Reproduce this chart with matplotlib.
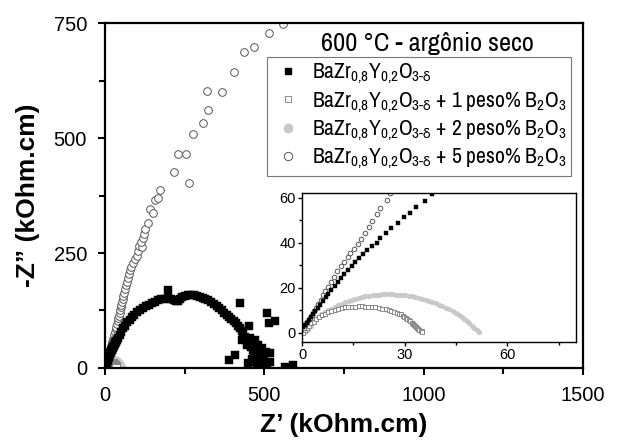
import matplotlib
matplotlib.use("Agg")
import matplotlib.pyplot as plt
from matplotlib.lines import Line2D
from matplotlib import font_manager

# find some condensed face for the legend, like the original
narrow = None
for f in font_manager.fontManager.ttflist:
    if f.style != 'normal' or f.weight not in (400, 'normal', 'regular'):
        continue
    if 'Narrow' in f.name or 'Condensed' in f.name:
        narrow = f.name
        break
if narrow is None:
    narrow = 'Liberation Sans'

plt.rcParams['font.family'] = ['Liberation Sans', 'DejaVu Sans']
plt.rcParams['mathtext.fontset'] = 'custom'
plt.rcParams['mathtext.rm'] = narrow
plt.rcParams['mathtext.it'] = narrow
plt.rcParams['mathtext.fallback'] = 'stixsans'

# BaZr0,8Y0,2O3-d (pure)
z0_re = [0.4, 0.9, 1.4, 2.0, 2.6, 3.2, 3.9, 4.6, 5.3, 6.1, 6.9, 7.7, 8.6, 9.5, 10.4, 11.4,
         12.4, 13.3, 14.6, 15.6, 16.6, 17.8, 19.0, 20.5, 21.8, 22.9, 24.4, 26.1, 28.0, 29.8,
         31.6, 33.2, 35.9, 38.1,
         41, 46, 51, 57, 63, 70, 77, 84, 92, 100, 109, 118, 127, 137, 147, 157, 167, 177,
         187, 197, 207, 215, 222, 229, 236, 243, 252, 261, 270, 279, 288, 297, 306, 315,
         324, 333, 342, 350, 358, 366, 374, 382, 390, 397, 404, 411, 417, 423, 429, 434,
         439, 444, 449, 454, 459, 464, 469, 474, 479, 484, 489, 494, 498,
         198, 424, 452, 430, 464, 492, 518, 508, 515, 533, 408, 390, 449, 518, 565, 590,
         496, 477, 446, 480, 470, 500, 505, 485, 460, 472, 510, 455]
z0_im = [2.7, 3.6, 4.6, 5.8, 7.0, 8.3, 9.7, 11.1, 12.6, 14.2, 15.8, 17.4, 19.1, 20.8, 22.6, 24.4,
         26.3, 28.0, 29.5, 31.4, 33.2, 34.8, 36.6, 38.5, 40.0, 42.2, 44.2, 46.5, 48.7, 51.3,
         53.3, 55.8, 58.4, 61.4,
         66, 72, 79, 86, 92, 99, 105, 110, 116, 121, 126, 130, 134, 138, 141, 144, 147, 149,
         151, 152, 151, 148, 146, 145, 149, 155, 157, 158, 159, 158, 157, 154, 152, 150,
         147, 143, 139, 135, 130, 125, 120, 115, 110, 107, 102, 97, 92, 87, 80, 73,
         67, 61, 56, 51, 45, 40, 35, 29, 23, 16, 10, 4, 1,
         170, 141, 91, 61, 57, 43, 33, 120, 98, 102, 28, 17, 11, 13, 2, 7,
         28, 2, 50, 50, 60, 20, 35, 30, 20, 12, 5, 65]

# + 1 peso% B2O3
z1_re = [0.3, 0.8, 1.4, 2.0, 2.7, 3.4, 4.2, 5.0, 5.7, 6.6, 7.6, 8.6, 9.6, 10.6, 11.6, 12.6,
         13.5, 14.5, 15.5, 16.5, 17.4, 18.4, 19.4, 20.4, 21.4, 22.4, 23.4, 24.4, 25.3, 26.1,
         26.9, 27.6, 28.2, 28.8, 29.4, 29.9, 30.4, 30.8, 31.2, 31.6, 32.0, 32.4, 32.8, 33.1,
         33.4, 33.7, 34.0, 34.3, 34.6, 34.9, 35.1]
z1_im = [0.2, 1.2, 2.2, 3.1, 4.2, 5.0, 6.0, 7.0, 7.8, 8.5, 9.2, 9.8, 10.3, 10.7, 11.0, 11.3,
         11.5, 11.6, 11.7, 11.8, 11.8, 11.7, 11.6, 11.5, 11.4, 11.1, 10.8, 10.4, 10.0, 9.6,
         9.2, 8.9, 8.6, 8.2, 7.7, 7.2, 6.7, 6.2, 5.6, 5.1, 4.6, 4.0, 3.5, 3.0, 2.6, 2.2,
         1.8, 1.4, 1.0, 0.7, 0.4]

# + 2 peso% B2O3
z2_re = [0.5, 1.2, 1.8, 2.6, 3.4, 4.0, 4.7, 5.6, 6.6, 7.6, 8.6, 9.6, 10.6, 11.6, 12.6, 13.6,
         14.5, 15.5, 16.5, 17.5, 18.4, 19.5, 20.6, 21.6, 22.6, 23.5, 24.3, 25.3, 26.3, 27.3,
         28.2, 29.2, 30.2, 31.2, 32.2, 33.1, 34.1, 35.1, 36.1, 37.0, 38.0, 39.0, 40.0, 41.0,
         42.0, 43.0, 44.0, 45.0, 45.9, 46.6, 47.3, 48.1, 48.8, 49.6, 50.3, 51.1, 51.8]
z2_im = [0.2, 1.0, 1.2, 3.2, 5.0, 6.2, 7.1, 8.2, 9.2, 10.1, 10.8, 11.6, 12.4, 13.0, 13.5, 14.1,
         14.6, 15.0, 15.4, 15.8, 16.2, 16.5, 16.7, 16.9, 17.0, 17.1, 17.1, 17.1, 17.1, 17.0,
         17.0, 16.9, 16.7, 16.5, 16.2, 15.9, 15.6, 15.2, 14.8, 14.2, 13.7, 13.1, 12.6, 12.0,
         11.2, 10.5, 9.6, 8.7, 7.8, 6.9, 6.0, 5.1, 4.2, 3.3, 2.2, 1.2, 0.4]

# + 5 peso% B2O3
z5_re = [0.5, 1.0, 1.6, 2.2, 2.8, 3.4, 4.0, 4.7, 5.4, 6.1, 6.8, 7.6, 8.4, 9.2, 10.2, 11.4,
         12.4, 13.3, 14.1, 15.1, 16.3, 17.1, 18.5, 19.5, 20.5, 21.8, 22.7, 24.7, 25.7,
         27.5, 29.5, 31.5, 33.5, 35.5, 37.5, 39.5, 41.5, 43.5, 45.5, 47.5, 49.5, 51.5, 53.5,
         55.5, 57.5, 60, 63, 66, 69, 72, 75, 78, 83, 88, 94, 100, 104, 107, 115, 113, 119,
         122, 126, 135, 141, 150, 158, 166, 172, 216, 264, 229, 254, 276, 307, 323, 320,
         367, 405, 436, 468, 515, 559]
z5_im = [2.2, 3.5, 5.0, 6.6, 8.1, 9.6, 11.2, 13.0, 14.8, 16.6, 18.4, 20.5, 22.6, 25.0, 27.4, 29.5,
         31.4, 33.6, 35.4, 37.3, 39.6, 41.8, 44.2, 46.9, 49.6, 52.5, 55.5, 58.7, 62.0,
         66, 72, 78, 84, 90, 96, 102, 108, 114, 120, 126, 132, 138, 144,
         150, 157, 164, 172, 180, 188, 196, 204, 212, 220, 228, 236, 244, 255, 265, 262, 274, 283,
         292, 302, 316, 346, 337, 365, 369, 387, 426, 402, 465, 465, 509, 533, 561, 602,
         600, 643, 687, 698, 728, 748]

base = r'BaZr$_{\mathregular{0{,}8}}$Y$_{\mathregular{0{,}2}}$O$_{\mathrm{3}\text{-}\mathrm{\delta}}$'
b2o3 = r'B$_{\mathregular{2}}$O$_{\mathregular{3}}$'
labels = [base,
          base + ' + 1 peso% ' + b2o3,
          base + ' + 2 peso% ' + b2o3,
          base + ' + 5 peso% ' + b2o3]

fig = plt.figure(figsize=(6.18, 4.48), dpi=100)
ax = fig.add_axes([0.170, 0.1786, 0.773, 0.770])

def draw(a, ms, ms_c):
    a.plot(z2_re, z2_im, 'o', ms=ms_c, mfc='#c8c8c8', mec='#c8c8c8', mew=0.5, ls='none')
    a.plot(z1_re, z1_im, 's', ms=ms, mfc='white', mec='#7a7a7a', mew=0.6, ls='none')
    a.plot(z5_re, z5_im, 'o', ms=ms_c, mfc='white', mec='#555555', mew=0.7, ls='none')
    a.plot(z0_re, z0_im, 's', ms=ms, mfc='black', mec='black', mew=0.3, ls='none')

draw(ax, 5.5, 5.5)
ax.set_xlim(0, 1500)
ax.set_ylim(0, 750)
ax.set_xticks([0, 500, 1000, 1500])
ax.set_xticks([250, 750, 1250], minor=True)
ax.set_yticks([0, 250, 500, 750])
ax.set_yticks([125, 375, 625], minor=True)
for s in ax.spines.values():
    s.set_linewidth(1.6)
ax.tick_params(which='major', direction='out', length=5, width=1.5, labelsize=14.5, pad=8)
ax.tick_params(which='minor', direction='out', length=4, width=1.5)
ax.set_xlabel('Z’ (kOhm.cm)', fontsize=19, fontweight='bold', labelpad=6)
ax.set_ylabel('-Z” (kOhm.cm)', fontsize=19, fontweight='bold', labelpad=10)

fig.text(0.691, 0.904, '600 °C - argônio seco', ha='center', va='center',
         fontsize=19, family=[narrow, 'DejaVu Sans'])

leg_size = 15.5 if narrow != 'Liberation Sans' else 12.5
handles = [Line2D([], [], marker='s', ls='none', ms=5, mfc='black', mec='black'),
           Line2D([], [], marker='s', ls='none', ms=5, mfc='white', mec='#8a8a8a', mew=0.7),
           Line2D([], [], marker='o', ls='none', ms=6, mfc='#c8c8c8', mec='#c8c8c8'),
           Line2D([], [], marker='o', ls='none', ms=6, mfc='white', mec='#555555', mew=0.7)]
leg = ax.legend(handles, labels, loc='upper left', bbox_to_anchor=(267 / 618, 1 - 57 / 448),
                bbox_transform=fig.transFigure, borderaxespad=0, fancybox=False,
                prop={'family': [narrow, 'DejaVu Sans'], 'size': leg_size},
                handletextpad=0.3, labelspacing=0.18, borderpad=0.22, handlelength=1.55)
leg.get_frame().set_edgecolor('#555555')
leg.get_frame().set_linewidth(0.8)

ins = fig.add_axes([0.4887, 0.2366, 0.4433, 0.3326])
draw(ins, 3, 3.3)
ins.set_xlim(0, 80)
ins.set_ylim(-4, 62)
ins.set_xticks([0, 30, 60])
ins.set_xticks([15, 45, 75], minor=True)
ins.set_yticks([0, 20, 40, 60])
ins.set_yticks([10, 30, 50], minor=True)
for s in ins.spines.values():
    s.set_linewidth(1.0)
ins.tick_params(which='major', direction='out', length=3, width=1, labelsize=10.5, pad=1.5)
ins.tick_params(which='minor', direction='out', length=2.5, width=1)

fig.savefig('out.png', dpi=100)
